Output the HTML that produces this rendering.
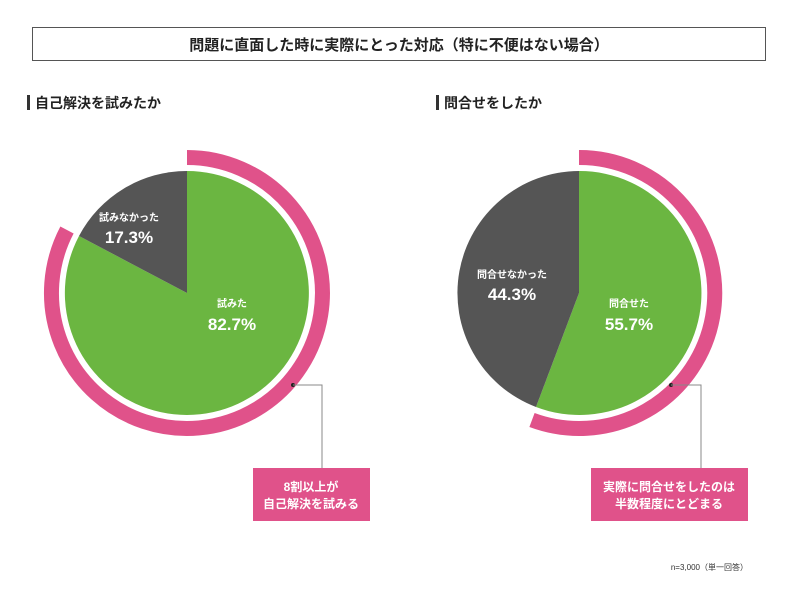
<!DOCTYPE html>
<html><head><meta charset="utf-8"><style>
body{margin:0;background:#fff;}
svg{display:block;}
text{font-family:"Liberation Sans","Noto Sans CJK JP",sans-serif;font-weight:bold;}
</style></head><body>
<svg width="800" height="600" viewBox="0 0 800 600">
<rect x="32.5" y="27.5" width="733" height="33" fill="#fff" stroke="#555" stroke-width="1"/>
<text x="399" y="50" font-size="15" text-anchor="middle" fill="#222">問題に直面した時に実際にとった対応（特に不便はない場合）</text>
<rect x="27" y="95" width="3" height="15" fill="#333"/>
<text x="35" y="108" font-size="14" fill="#222">自己解決を試みたか</text>
<rect x="436" y="95" width="3" height="15" fill="#333"/>
<text x="444" y="108" font-size="14" fill="#222">問合せをしたか</text>

<path d="M187,293 L187,171 A122,122 0 1 1 79,236 Z" fill="#6bb641"/>
<path d="M187,293 L79,236 A122,122 0 0 1 187,171 Z" fill="#555555"/>
<path d="M187,157.5 A135.5,135.5 0 1 1 67,230" fill="none" stroke="#e0528a" stroke-width="15"/>
<text x="129" y="221" font-size="10" text-anchor="middle" fill="#fff">試みなかった</text>
<text x="129" y="243" font-size="17" text-anchor="middle" fill="#fff">17.3%</text>
<text x="232" y="307" font-size="10" text-anchor="middle" fill="#fff">試みた</text>
<text x="232" y="330" font-size="17" text-anchor="middle" fill="#fff">82.7%</text>

<path d="M579,293 L579,171 A122,122 0 1 1 536,407 Z" fill="#6bb641"/>
<path d="M579,293 L536,407 A122,122 0 0 1 579,171 Z" fill="#555555"/>
<path d="M579,157.5 A135.5,135.5 0 1 1 532,420" fill="none" stroke="#e0528a" stroke-width="15"/>
<text x="512" y="278" font-size="10" text-anchor="middle" fill="#fff">問合せなかった</text>
<text x="512" y="300" font-size="17" text-anchor="middle" fill="#fff">44.3%</text>
<text x="629" y="307" font-size="10" text-anchor="middle" fill="#fff">問合せた</text>
<text x="629" y="330" font-size="17" text-anchor="middle" fill="#fff">55.7%</text>

<circle cx="293" cy="385" r="2" fill="#222"/>
<polyline points="293,385 322,385 322,468" fill="none" stroke="#888" stroke-width="1"/>
<rect x="253" y="468" width="117" height="53" fill="#e0528a"/>
<text x="311" y="491" font-size="12" text-anchor="middle" fill="#fff">8割以上が</text>
<text x="311" y="508" font-size="12" text-anchor="middle" fill="#fff">自己解決を試みる</text>

<circle cx="671" cy="385" r="2" fill="#222"/>
<polyline points="671,385 701,385 701,468" fill="none" stroke="#888" stroke-width="1"/>
<rect x="591" y="468" width="157" height="53" fill="#e0528a"/>
<text x="669" y="491" font-size="12" text-anchor="middle" fill="#fff">実際に問合せをしたのは</text>
<text x="669" y="508" font-size="12" text-anchor="middle" fill="#fff">半数程度にとどまる</text>

<text x="748" y="570" font-size="8" font-weight="normal" text-anchor="end" fill="#333" style="font-weight:normal">n=3,000（単一回答）</text>
</svg>
</body></html>
